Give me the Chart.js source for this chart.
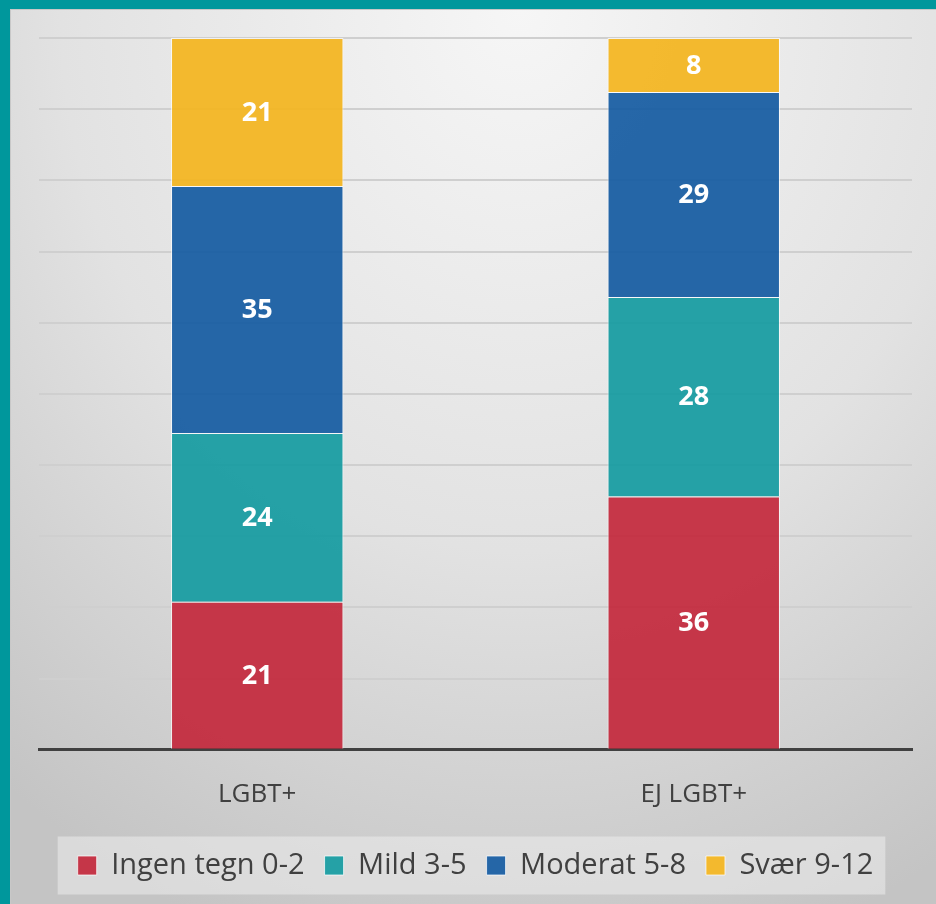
<!DOCTYPE html>
<html>
<head>
<meta charset="utf-8">
<script src="https://cdn.jsdelivr.net/npm/chart.js@4/dist/chart.umd.min.js"></script>
<style>
  html, body { margin: 0; padding: 0; }
  body { width: 936px; height: 904px; overflow: hidden; background: #00979c; }
  .frame {
    position: absolute; left: 10px; top: 9px; width: 926px; height: 895px;
    background: radial-gradient(ellipse 90% 110% at 55% 0%, #f6f6f6 0%, #e2e2e2 55%, #c4c4c4 100%);
    box-shadow: inset 1px 1px 0 #c8c8c8;
  }
  canvas { display: block; }
</style>
</head>
<body>
<div class="frame"><canvas id="chart" width="926" height="895"></canvas></div>
<script>
document.addEventListener('DOMContentLoaded', function () {

  const categories = ['LGBT+', 'EJ LGBT+'];
  const seriesNames = ['Ingen tegn 0-2', 'Mild 3-5', 'Moderat 5-8', 'Svær 9-12'];
  const ingen = [20.8, 35.6];
  const mild = [23.7, 28.0];
  const moderat = [34.7, 28.8];
  const svaer = [20.8, 7.6];

  const colors = ['rgba(195, 40, 60, 0.92)', 'rgba(24, 156, 162, 0.94)', 'rgba(24, 94, 163, 0.94)', 'rgba(243, 182, 34, 0.94)'];
  const textColor = '#404040';
  const fontFamily = '"Open Sans", "Noto Sans", sans-serif';

  const valueLabels = {
    id: 'valueLabels',
    afterDatasetsDraw(chart) {
      const ctx = chart.ctx;
      ctx.save();
      ctx.fillStyle = '#ffffff';
      ctx.font = 'bold 27px ' + fontFamily;
      ctx.textAlign = 'center';
      ctx.textBaseline = 'middle';
      chart.data.datasets.forEach((ds, i) => {
        chart.getDatasetMeta(i).data.forEach((bar, j) => {
          const mid = (bar.y + bar.base) / 2;
          ctx.fillText(String(Math.round(ds.data[j])), bar.x, mid + 1);
        });
      });
      ctx.restore();
    }
  };

  const legendBox = {
    id: 'legendBox',
    beforeDraw(chart) {
      const boxes = chart.legend.legendHitBoxes;
      if (!boxes || !boxes.length) return;
      const left = Math.min(...boxes.map(b => b.left)) - 20;
      const right = Math.max(...boxes.map(b => b.left + b.width)) + 12;
      const mid = boxes[0].top + boxes[0].height / 2;
      const ctx = chart.ctx;
      ctx.save();
      ctx.fillStyle = 'rgba(236, 236, 236, 0.55)';
      ctx.fillRect(left, mid - 29, right - left, 58);
      ctx.restore();
    }
  };

  const ctx = document.getElementById('chart').getContext('2d');
  new Chart(ctx, {
    type: 'bar',
    data: {
      labels: categories,
      datasets: [ingen, mild, moderat, svaer].map((d, i) => ({
        label: seriesNames[i],
        data: d,
        backgroundColor: colors[i],
        borderColor: 'rgba(255, 255, 255, 0.7)',
        borderWidth: 1,
        barPercentage: 0.395,
        categoryPercentage: 1
      }))
    },
    options: {
      responsive: false,
      animation: false,
      layout: { padding: { left: 29, right: 24, top: 29, bottom: 14 } },
      scales: {
        x: {
          stacked: true,
          grid: { display: false },
          border: { display: true, color: '#404040', width: 3 },
          ticks: { color: textColor, font: { family: fontFamily, size: 26 }, padding: 21 }
        },
        y: {
          stacked: true,
          min: 0,
          max: 100,
          ticks: { display: false, stepSize: 10 },
          grid: { color: '#cfcfcf', lineWidth: 2, drawTicks: false },
          border: { display: false }
        }
      },
      plugins: {
        legend: {
          position: 'bottom',
          labels: {
            color: textColor,
            font: { family: fontFamily, size: 29 },
            boxWidth: 19,
            boxHeight: 19,
            padding: 20
          }
        },
        tooltip: { enabled: false }
      }
    },
    plugins: [valueLabels, legendBox]
  });
});
</script>
</body>
</html>
